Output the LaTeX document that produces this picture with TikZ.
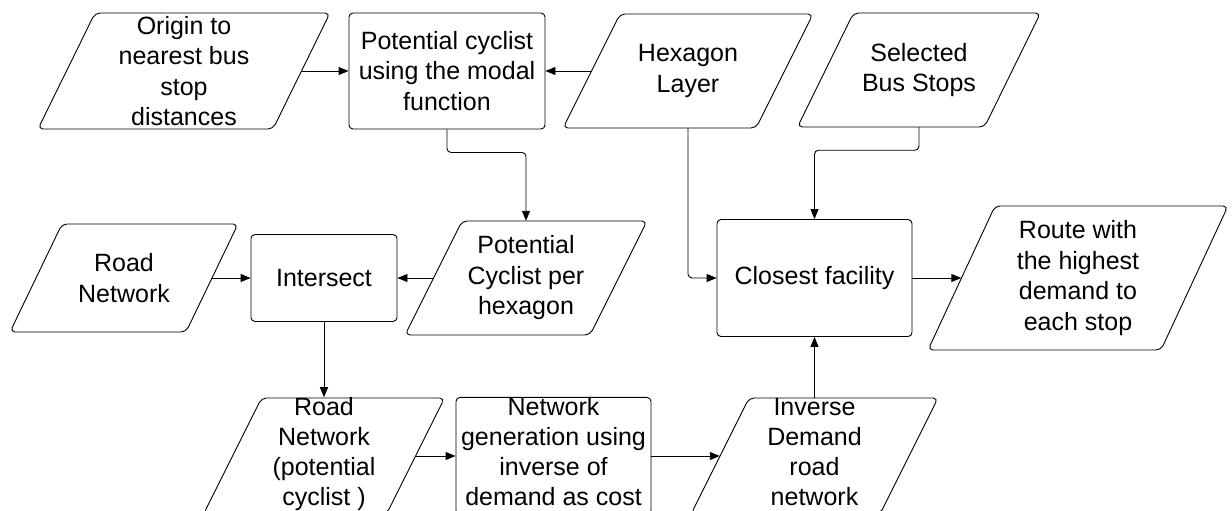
\documentclass[tikz,border=0pt]{standalone}
\usepackage{fontspec}
\setmainfont{Liberation Sans}
\usetikzlibrary{arrows.meta,calc}
\newcommand\drawpara[4]{\draw[parashape] ($(#1.center)+(-#2/2+#4,-#3/2)$) -- ($(#1.center)+(#2/2+#4,-#3/2)$) -- ($(#1.center)+(#2/2-#4,#3/2)$) -- ($(#1.center)+(-#2/2-#4,#3/2)$) -- cycle;}
\newcommand\lowstrut{\rule[-9pt]{0pt}{9pt}}
\begin{document}
\begin{tikzpicture}[x=1pt,y=-1pt,
  txt/.style={font=\fontsize{25}{30.5}\selectfont, align=center, inner sep=0pt},
  box/.style={txt, draw, line width=0.9pt, rounded corners=4pt},
  para/.style={txt},
  parashape/.style={draw, line width=0.9pt, rounded corners=5pt},
  conn/.style={draw, line width=0.9pt, rounded corners=4pt, -{Triangle[length=10pt,width=8pt]}}]
\useasboundingbox (0,0) rectangle (1232,511);

% top row
\node[para, minimum width=235pt, minimum height=116pt] (origin) at (184,71) {Origin to\\nearest bus\\stop\\distances};
\drawpara{origin}{235}{116}{28.5}
\node[box, minimum width=196pt, minimum height=116pt] (potcyc) at (447,71) {Potential cyclist\\using the modal\\function};
\node[para, minimum width=193pt, minimum height=114pt] (hex) at (688,71) {Hexagon\\Layer};
\drawpara{hex}{193}{114}{28.5}
\node[para, minimum width=187pt, minimum height=114pt] (selected) at (919,70) {Selected\\Bus Stops};
\drawpara{selected}{187}{114}{28}

% middle row
\node[para, minimum width=176pt, minimum height=108pt] (roadnet) at (124,278) {Road\\Network};
\drawpara{roadnet}{176}{108}{26}
\node[box, minimum width=146pt, minimum height=87pt] (intersect) at (324,278) {Intersect};
\node[para, minimum width=185pt, minimum height=114pt] (pchex) at (526,278) {Potential\\Cyclist per\\hexagon};
\drawpara{pchex}{185}{114}{28.5}
\node[box, minimum width=195pt, minimum height=117pt] (closest) at (814.5,278) {Closest facility};
\node[para, minimum width=233pt, minimum height=144pt] (route) at (1078,278) {Route with\\the highest\\demand to\\each stop};
\drawpara{route}{233}{144}{33.5}

% bottom row
\node[para, minimum width=183pt, minimum height=116pt, font=\fontsize{25}{30}\selectfont] (rnpot) at (324,456) {Road\\Network\\(potential\\cyclist )\lowstrut};
\drawpara{rnpot}{183}{116}{29}
\node[box, minimum width=195pt, minimum height=116pt, font=\fontsize{25}{30}\selectfont] (netgen) at (553.5,456) {Network\\generation using\\inverse of\\demand as cost\lowstrut};
\node[para, minimum width=189pt, minimum height=116pt, font=\fontsize{25}{30}\selectfont] (inverse) at (814.5,456) {Inverse\\Demand\\road\\network\lowstrut};
\drawpara{inverse}{189}{116}{29}

% connectors
\draw[conn] (origin.east) -- (potcyc.west);
\draw[conn] (hex.west) -- (potcyc.east);
\draw[conn] (potcyc.south) -- ++(0,23) -| (pchex.north);
\draw[conn] (selected.south) -- ++(0,23) -| (closest.north);
\draw[conn] (hex.south) |- (closest.west);
\draw[conn] (roadnet.east) -- (intersect.west);
\draw[conn] (pchex.west) -- (intersect.east);
\draw[conn] (closest.east) -- (route.west);
\draw[conn] (intersect.south) -- (rnpot.north);
\draw[conn] (rnpot.east) -- (netgen.west);
\draw[conn] (netgen.east) -- (inverse.west);
\draw[conn] (inverse.north) -- (closest.south);
\end{tikzpicture}
\end{document}
